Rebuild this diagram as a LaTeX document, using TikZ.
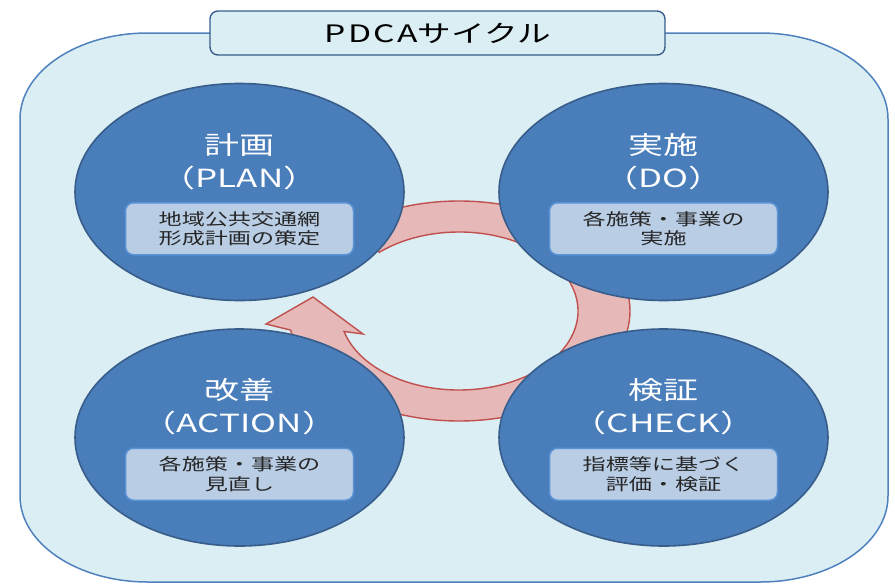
\documentclass[tikz,border=0pt]{standalone}
\usepackage{fontspec}
\newfontfamily\jpfont[FakeStretch=1.4]{Noto Sans CJK JP}
\usetikzlibrary{shapes.geometric,positioning,calc}
\definecolor{panelbg}{HTML}{DBEEF4}
\definecolor{panelline}{HTML}{4F81BD}
\definecolor{stagefill}{HTML}{4A7EBB}
\definecolor{stageline}{HTML}{385D8A}
\definecolor{taskfill}{HTML}{B9CDE5}
\definecolor{taskline}{HTML}{5A92D6}
\definecolor{ringfill}{HTML}{E6B9B8}
\definecolor{ringline}{HTML}{C0504D}

\begin{document}
\begin{tikzpicture}[x=1pt,y=1pt,
        stage/.style={ellipse,draw=stageline,line width=1.6pt,fill=stagefill,minimum width=329pt,minimum height=217pt,inner sep=0pt},
        stagename/.style={text=white,align=center,inner sep=0pt,font=\jpfont\fontsize{25}{33}\selectfont},
        task/.style={draw=taskline,line width=1.5pt,fill=taskfill,rounded corners=8pt,minimum width=228pt,minimum height=52pt,inner sep=0pt,align=center,text=black!85,font=\jpfont\fontsize{16.5}{19.5}\selectfont},
        titlebox/.style={draw=stageline,line width=1.4pt,fill=panelbg,rounded corners=8pt,minimum width=455pt,minimum height=44pt,inner sep=0pt,font=\jpfont\fontsize{24}{26}\selectfont},
        ring/.style={draw=ringline,line width=1.4pt,fill=ringfill,line join=miter}]
        \useasboundingbox (0,0) rectangle (895,-584);

        % panel
        \draw[fill=panelbg,draw=panelline,line width=1.5pt] (20,-119) -- (20,-496)
            arc[start angle=180,end angle=270,x radius=128,y radius=86] -- (760,-582)
            arc[start angle=270,end angle=360,x radius=128,y radius=86] -- (888,-119)
            arc[start angle=0,end angle=90,x radius=128,y radius=86] -- (148,-33)
            arc[start angle=90,end angle=180,x radius=128,y radius=86] -- cycle;
        \node[titlebox] (title) at (437.5,-33) {{\addfontfeature{LetterSpace=10}PDCA}サイクル};

        % cycle arrow
        \coordinate (hub) at (459,-311);
        \coordinate (barbl) at (266,-324);
        \coordinate (tip) at (313,-297);
        \coordinate (barbr) at (363,-334);
        \draw[ring] ($(hub)+(132:171 and 110)$)
            arc[start angle=132,end angle=-170,x radius=171,y radius=110]
            -- (barbl) -- (tip) -- (barbr) -- ($(hub)+(-165:119 and 79)$)
            arc[start angle=-165,end angle=132,x radius=119,y radius=79] -- cycle;

        % stages
        \node[stage] (plan) at (239.5,-192) {};
        \node[stage] (do) at (663.5,-192) {};
        \node[stage] (act) at (239.5,-437.5) {};
        \node[stage] (check) at (663.5,-437.5) {};

        \node[stagename,above=2pt of plan.center] (planname) {計画\\（PLAN）};
        \node[stagename,above=2pt of do.center] (doname) {実施\\（DO）};
        \node[stagename,above=2pt of act.center] (actname) {改善\\（ACTION）};
        \node[stagename,above=2pt of check.center] (checkname) {検証\\（CHECK）};

        \node[task,below=10pt of plan.center] (plantask) {地域公共交通網\\形成計画の策定};
        \node[task,below=10pt of do.center] (dotask) {各施策・事業の\\実施};
        \node[task,below=10pt of act.center] (acttask) {各施策・事業の\\見直し};
        \node[task,below=10pt of check.center] (checktask) {指標等に基づく\\評価・検証};
\end{tikzpicture}
\end{document}
